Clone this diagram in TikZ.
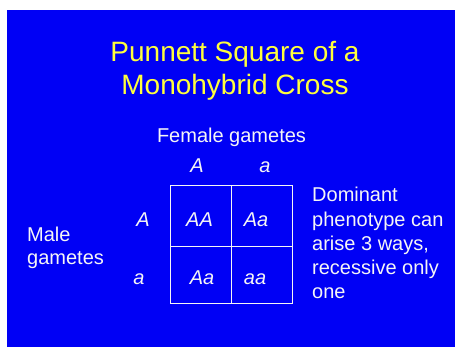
\documentclass[tikz,border=0pt]{standalone}
\usepackage{fontspec}
\setmainfont{Liberation Sans}
\definecolor{slideblue}{RGB}{0,0,245}
\definecolor{titleyellow}{RGB}{255,255,60}
\definecolor{txtwhite}{RGB}{245,245,245}
\begin{document}
\begin{tikzpicture}[x=1pt,y=-1pt,
  title/.style={text=titleyellow,inner sep=0pt,anchor=base,font=\fontsize{28}{33}\selectfont},
  lbl/.style={text=txtwhite,inner sep=0pt,anchor=base west,font=\fontsize{20}{24}\selectfont},
  gene/.style={text=txtwhite,inner sep=0pt,anchor=base,font=\fontsize{20}{24}\selectfont\itshape},
  gridline/.style={draw=txtwhite,line width=0.8pt}]
\useasboundingbox (0,0) rectangle (455,347);
\fill[white] (0,0) rectangle (455,347);
\fill[slideblue] (7,10) rectangle (455,347);
% title
\node[title] (t1) at (235,62) {Punnett Square of a};
\node[title] (t2) at (235,95) {Monohybrid Cross};
% female gametes
\node[lbl,anchor=base] (fem) at (231.5,143) {Female gametes};
\node[gene] (cA) at (197,173) {A};
\node[gene] (ca) at (265,173) {a};
% grid
\coordinate (g1) at (170.7,185.7);
\coordinate (g2) at (292.3,303.3);
\draw[gridline] (g1) rectangle (g2);
\coordinate (v1) at (231.3,185.7);
\coordinate (v2) at (231.3,303.3);
\coordinate (h1) at (170.7,246.7);
\coordinate (h2) at (292.3,246.7);
\draw[gridline] (v1) -- (v2);
\draw[gridline] (h1) -- (h2);
% row labels
\node[gene] (rA) at (143,227) {A};
\node[gene] (ra) at (139,284) {a};
% cells
\node[gene] (AA) at (199.5,227) {AA};
\node[gene] (Aa1) at (256,227) {Aa};
\node[gene] (Aa2) at (202,284) {Aa};
\node[gene] (aa) at (255,284) {aa};
% male gametes
\node[lbl] (m1) at (27,242) {Male};
\node[lbl] (m2) at (27,265) {gametes};
% right text
\node[lbl] (d1) at (312,202) {Dominant};
\node[lbl] (d2) at (312,227) {phenotype can};
\node[lbl] (d3) at (312,250.5) {arise 3 ways,};
\node[lbl] (d4) at (312,275) {recessive only};
\node[lbl] (d5) at (312,298.5) {one};
\end{tikzpicture}
\end{document}
